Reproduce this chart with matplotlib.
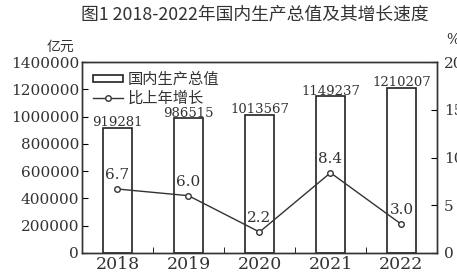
import matplotlib
matplotlib.use('Agg')
import matplotlib.pyplot as plt
from matplotlib.patches import Patch
from matplotlib.lines import Line2D

plt.rcParams['font.family'] = ['DejaVu Serif', 'Noto Sans CJK SC']

# data
years = ['2018', '2019', '2020', '2021', '2022']
gdp = [919281, 986515, 1013567, 1149237, 1210207]
growth = [6.7, 6.0, 2.2, 8.4, 3.0]
gdp_labels = ['919281', '986515', '1013567', '1149237', '1210207']
growth_labels = ['6.7', '6.0', '2.2', '8.4', '3.0']

fig = plt.figure(figsize=(4.57, 2.72), dpi=100)
ax = fig.add_axes([82/457, 19/272, 355/457, 191/272])
x = list(range(len(years)))

ax.bar(x, gdp, width=0.4, color='white', edgecolor='#222222', linewidth=1.2)
for xi, v, s in zip(x, gdp, gdp_labels):
    ax.annotate(s, (xi, v), xytext=(0, -1), textcoords='offset points',
                ha='center', va='bottom', fontsize=9.5, color='#333333')

ax.set_xlim(-0.5, 4.5)
ax.set_ylim(0, 1400000)
ax.set_yticks(range(0, 1400001, 200000))
ax.set_yticklabels([str(v) for v in range(0, 1400001, 200000)], fontsize=11, color='#333333')
ax.set_xticks(x)
ax.set_xticklabels(years, fontsize=12.5, color='#333333')
ax.tick_params(axis='x', length=0, pad=2)
ax.set_xticks([0.5, 1.5, 2.5, 3.5], minor=True)
ax.tick_params(axis='x', which='minor', direction='in', length=4)
ax.tick_params(axis='y', direction='in', length=4, pad=2)
for sp in ax.spines.values():
    sp.set_color('#333333')
    sp.set_linewidth(1.0)

ax2 = ax.twinx()
ax2.plot(x, growth, color='#333333', linewidth=1.0, marker='o', markersize=4,
         markerfacecolor='white', markeredgecolor='#333333')
for xi, v, s in zip(x, growth, growth_labels):
    ax2.annotate(s, (xi, v), xytext=(0, 5), textcoords='offset points',
                 ha='center', va='bottom', fontsize=11, color='#333333')
ax2.set_ylim(0, 20)
ax2.set_yticks([0, 5, 10, 15, 20])
ax2.set_yticklabels(['0', '5', '10', '15', '20'], fontsize=11, color='#333333')
ax2.tick_params(axis='y', direction='in', length=4, pad=5)
for sp in ax2.spines.values():
    sp.set_color('#333333')
    sp.set_linewidth(1.0)

handles = [Patch(facecolor='white', edgecolor='#222222', linewidth=1.2),
           Line2D([0], [0], color='#333333', linewidth=1.0, marker='o', markersize=4,
                  markerfacecolor='white', markeredgecolor='#333333')]
ax.legend(handles, ['国内生产总值', '比上年增长'], loc='upper left',
          bbox_to_anchor=(0.0, 1.0), frameon=False, fontsize=11,
          handlelength=2.0, handleheight=0.4, handletextpad=0.3,
          labelspacing=0.25, borderaxespad=0.5, borderpad=0.2,
          labelcolor='#333333')

fig.text(255/457, 1 - 15/272, '图1 2018-2022年国内生产总值及其增长速度',
         ha='center', va='center', fontsize=12.8, color='#333333',
         family=['Noto Sans CJK SC', 'DejaVu Serif'])
fig.text(60/457, 1 - 47/272, '亿元', ha='center', va='center', fontsize=10,
         color='#333333', family=['Noto Sans CJK SC'])
fig.text(446/457, 1 - 40/272, '%', ha='left', va='center', fontsize=10,
         color='#333333')

fig.savefig('out.png', dpi=100)
